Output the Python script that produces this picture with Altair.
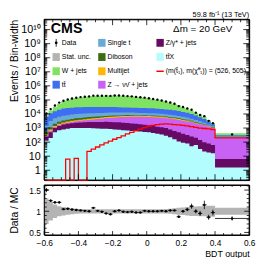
import altair as alt
import pandas as pd

# ---------------- data (values per bin width) ----------------
bin_lo = [round(-0.6 + 0.025 * i, 4) for i in range(40)] + [0.4]
bin_hi = [round(-0.575 + 0.025 * i, 4) for i in range(40)] + [0.6]

ttx = [126, 200, 500, 710, 790, 890, 1000, 1000, 1000, 1000, 1000, 950, 930, 910, 890, 850, 790, 760, 710, 660,
       630, 600, 560, 520, 500, 450, 400, 350, 280, 220, 160, 110, 89, 79, 50, 63, 32, 22, 18, 16, 1.6]
zgamma = [125, 300, 500, 700, 980, 1100, 1200, 1400, 1500, 1600, 1700, 1800, 1800, 1800, 1900, 1800, 1800, 1800,
          1700, 1600, 1500, 1400, 1300, 1200, 1100, 970, 860, 770, 720, 570, 470, 390, 310, 240, 200, 140, 110,
          78, 61, 47, 4.7]
znunu = [31, 130, 200, 250, 310, 400, 520, 620, 800, 920, 1100, 1320, 1600, 1900, 2300, 2600, 2900, 3200, 3600,
         3900, 4200, 4300, 4400, 4500, 4400, 4500, 4400, 4200, 4000, 3900, 3600, 3300, 2900, 2600, 2300, 1900,
         1700, 1500, 1200, 940, 190]
multijet = [73, 160, 210, 340, 420, 550, 560, 610, 670, 720, 770, 820, 880, 950, 1000, 1100, 1100, 1200, 1100,
            1100, 1100, 1100, 1100, 1100, 1100, 1000, 980, 940, 880, 820, 750, 670, 580, 500, 370, 260, 180, 110,
            95, 47, 15]
diboson = [150, 330, 580, 820, 1000, 1000, 1200, 1300, 1300, 1400, 1500, 1400, 1400, 1300, 1200, 1300, 1200, 1000,
           1000, 1100, 900, 900, 900, 880, 860, 840, 810, 770, 720, 670, 610, 550, 480, 410, 350, 290, 200, 160,
           100, 75, 15]
single_t = [910, 2000, 3000, 3500, 3900, 4300, 4700, 4900, 5000, 5100, 5200, 5200, 5100, 5100, 5100, 5000, 4800,
            4600, 4500, 4300, 4300, 4000, 3700, 3600, 3500, 3500, 3300, 3200, 2900, 2700, 2500, 2200, 1900, 1700,
            1400, 1100, 850, 540, 350, 200, 29]
ttbar = [4600, 8100, 11000, 14000, 17000, 18000, 19000, 20000, 20000, 20200, 20400, 20100, 19900, 19600, 19300,
         19000, 18300, 17600, 16900, 16300, 15600, 15200, 14900, 14600, 14200, 13900, 13300, 12700, 11800, 11000,
         10100, 9000, 7800, 6500, 5300, 4100, 2900, 2000, 1100, 500, 53]
wjets = [1400, 6600, 17000, 33000, 59000, 74000, 92000, 110000, 125000, 135000, 146000, 155000, 163000, 168000,
         173000, 177000, 178000, 174000, 170000, 162000, 154000, 142000, 132000, 118000, 106000, 92000, 81000,
         68000, 56000, 45000, 34000, 25500, 17500, 12000, 7800, 4600, 2900, 1700, 850, 420, 120]
signal = [0, 0, 0, 0, 0, 6.3, 0, 7.1, 0, 0, 22, 32, 45, 63, 89, 120, 160, 210, 280, 380, 500, 660, 850, 1070,
          1320, 1580, 1780, 1900, 2000, 1900, 1780, 1660, 1580, 1410, 1260, 1120, 1000, 930, 890, 790, 200]
ratio = [1.5, 1.25, 1.21, 1.21, 1.05, 1.06, 1.04, 1.03, 1.02, 1.01, 1.0, 1.08, 1.01, 0.99, 0.95, 0.93, 1.0, 1.02,
         0.99, 0.98, 0.99, 0.97, 0.97, 1.01, 1.0, 1.0, 1.0, 1.01, 1.0, 1.02, 1.02, 0.87, 1.0, 1.04, 1.12, 1.0, 0.95,
         1.15, 0.86, 0.97, 0.83]
ratio_err = [0.05, 0.03, 0.03, 0.03, 0.02, 0.02, 0.015, 0.015, 0.01, 0.01, 0.01, 0.01, 0.01, 0.01, 0.01, 0.01,
             0.01, 0.01, 0.01, 0.01, 0.01, 0.01, 0.01, 0.01, 0.01, 0.01, 0.01, 0.015, 0.015, 0.02, 0.02, 0.03, 0.03,
             0.04, 0.06, 0.05, 0.06, 0.1, 0.06, 0.07, 0.05]
mc_stat = [0.3, 0.22, 0.16, 0.12, 0.1, 0.08, 0.07, 0.06, 0.055, 0.05, 0.05, 0.05, 0.05, 0.05, 0.05, 0.05, 0.05,
           0.05, 0.05, 0.05, 0.05, 0.05, 0.05, 0.05, 0.05, 0.05, 0.05, 0.05, 0.055, 0.06, 0.07, 0.08, 0.09, 0.1,
           0.11, 0.11, 0.12, 0.12, 0.13, 0.13, 0.08]

x_major = [-0.6, -0.4, -0.2, 0, 0.2, 0.4, 0.6]
y_major = [1, 10, 1e2, 1e3, 1e4, 1e5, 1e6, 1e7, 1e8, 1e9, 1e10]
y_labels = ["1", "10", "10²", "10³", "10⁴", "10⁵", "10⁶", "10⁷", "10⁸", "10⁹", "10¹⁰"]
r_major = [0.5, 1, 1.5]

# stack, bottom to top
stack = [
    ("ttX", ttx, "#b3fdff"),
    ("Zgamma", zgamma, "#650b63"),
    ("Znunu", znunu, "#c862f5"),
    ("Multijet", multijet, "#ffb703"),
    ("Diboson", diboson, "#3b6e14"),
    ("Single t", single_t, "#68a9d8"),
    ("ttbar", ttbar, "#3e6ff3"),
    ("W+jets", wjets, "#80e262"),
]
HATCH = "#b4b4b4"

# ---------------- layout ----------------
FONT = "Liberation Sans"
W, H1, H2 = 209, 164, 51
YMIN, YMAX = 0.2, 5.4e10
RMIN, RMAX = 0.44, 1.62
TOP = 16.0   # page y of the upper panel top (legend placed in page terms)
LEFT = 43.3

xs = alt.Scale(domain=[-0.6, 0.6], nice=False, zero=False)
ys = alt.Scale(type="log", domain=[YMIN, YMAX], nice=False)
rs = alt.Scale(domain=[RMIN, RMAX], nice=False, zero=False)

label_expr = "[" + ",".join("'%s'" % s for s in y_labels) + "][round(log(datum.value)/LN10)]"
common = dict(ticks=False, domain=False, grid=False, labelOverlap=False, labelFlush=False)
ax_up_y = alt.Axis(values=y_major, labelExpr=label_expr, title="Events / Bin-width",
                   titleAnchor="end", titleX=-25.5, titleBaseline="bottom", titleFontSize=10.5,
                   labelFontSize=11, labelPadding=4, **common)
ax_r_y = alt.Axis(values=r_major, format="~g", title="Data / MC", titleX=-25.5, titleBaseline="bottom",
                  titleFontSize=10.5, labelFontSize=8.5, labelPadding=4, **common)
ax_r_x = alt.Axis(values=x_major, format="~g", title="BDT output", titleAnchor="end", labelFontSize=8.5,
                  titleFontSize=9, labelPadding=4, titlePadding=2, **common)

XU = lambda f: alt.X(f, scale=xs, axis=None)
YU = lambda f: alt.Y(f, scale=ys, axis=ax_up_y, stack=None)
XR = lambda f: alt.X(f, scale=xs, axis=ax_r_x)
YR = lambda f: alt.Y(f, scale=rs, axis=ax_r_y, stack=None)

edges = bin_lo + [0.6]
centers = [(a + b) / 2 for a, b in zip(bin_lo, bin_hi)]
dummy = pd.DataFrame({"a": [0]})


def step(vals):
    return list(vals) + [vals[-1]]


cumulative = []
running = [0.0] * len(bin_lo)
for name, vals, color in stack:
    running = [r + v for r, v in zip(running, vals)]
    cumulative.append((name, list(running), color))
total = running

upper_layers = []
for name, vals, color in reversed(cumulative):
    df = pd.DataFrame({"x": edges, "top": step(vals), "base": [YMIN] * len(edges)})
    upper_layers.append(
        alt.Chart(df).mark_area(interpolate="step-after", color=color).encode(
            x=XU("x:Q"), y=YU("top:Q"), y2="base:Q"))


def frame(h):
    return alt.Chart(dummy).mark_rect(fillOpacity=0, stroke="black", strokeWidth=1).encode(
        x=alt.value(0), x2=alt.value(W), y=alt.value(0), y2=alt.value(h))


upper_layers.append(frame(H1))

# signal
sig_plot = [v if v > 0 else YMIN for v in signal]
df_sig = pd.DataFrame({"x": edges, "v": step(sig_plot)})
upper_layers.append(
    alt.Chart(df_sig).mark_line(interpolate="step-after", color="#ff0000", strokeWidth=1.3).encode(
        x=XU("x:Q"), y=YU("v:Q")))


# ticks
def yticks(vals, ych, length, side):
    df = pd.DataFrame({"v": vals})
    x1, x2 = (0, length) if side == "left" else (W, W - length)
    return alt.Chart(df).mark_rule(color="black", strokeWidth=0.8).encode(
        y=ych("v:Q"), x=alt.value(x1), x2=alt.value(x2))


def xticks(vals, xch, h, length, side):
    df = pd.DataFrame({"v": vals})
    y1, y2 = (h, h - length) if side == "bottom" else (0, length)
    return alt.Chart(df).mark_rule(color="black", strokeWidth=0.8).encode(
        x=xch("v:Q"), y=alt.value(y1), y2=alt.value(y2))


y_minor = [m * 10.0 ** d for d in range(-1, 11) for m in range(2, 10) if YMIN <= m * 10.0 ** d <= YMAX]
x_minor = [round(-0.6 + 0.05 * i, 3) for i in range(25) if i % 4 != 0]
r_minor = [0.6, 0.7, 0.8, 0.9, 1.1, 1.2, 1.3, 1.4, 1.6]

for side in ("left", "right"):
    upper_layers.append(yticks(y_major, YU, 6, side))
    upper_layers.append(yticks(y_minor, YU, 3, side))
for side in ("bottom", "top"):
    upper_layers.append(xticks(x_major, XU, H1, 6, side))
    upper_layers.append(xticks(x_minor, XU, H1, 3, side))

# data points
data_vals = [t * r for t, r in zip(total, ratio)]
df_data = pd.DataFrame({
    "x": centers, "v": data_vals,
    "lo": [d * (1 - e / r) for d, e, r in zip(data_vals, ratio_err, ratio)],
    "hi": [d * (1 + e / r) for d, e, r in zip(data_vals, ratio_err, ratio)],
})
upper_layers.append(alt.Chart(df_data).mark_rule(color="black", strokeWidth=0.8).encode(
    x=XU("x:Q"), y=YU("lo:Q"), y2="hi:Q"))
upper_layers.append(alt.Chart(df_data).mark_circle(color="black", size=6, opacity=1).encode(
    x=XU("x:Q"), y=YU("v:Q")))

# ---------------- legend & labels ----------------
col_sw = [51.7, 98.3, 157.7]
row_y = [40.0, 54.5, 69.0, 82.7]
legend = [
    (0, 0, "Data", "data", None),
    (0, 1, "Stat. unc.", "box", HATCH),
    (0, 2, "W + jets", "box", "#80e262"),
    (0, 3, "tt\u0304", "box", "#3e6ff3"),
    (1, 0, "Single t", "box", "#68a9d8"),
    (1, 1, "Diboson", "box", "#3b6e14"),
    (1, 2, "Multijet", "box", "#ffb703"),
    (1, 3, "Z \u2192 \u03bd\u03bd\u0304 + jets", "box", "#c862f5"),
    (2, 0, "Z/\u03b3* + jets", "box", "#650b63"),
    (2, 1, "tt\u0304X", "box", "#b3fdff"),
    (2, 2, "(m(t\u0303\u2081), m(\u03c7\u0303\u2070\u2081)) = (526, 505)", "line", "#ff0000"),
]
for c, r, label, kind, color in legend:
    x0 = col_sw[c] - LEFT
    yc = row_y[r] - TOP
    if kind == "box":
        upper_layers.append(alt.Chart(dummy).mark_rect(color=color).encode(
            x=alt.value(x0), x2=alt.value(x0 + 7.5), y=alt.value(yc - 4), y2=alt.value(yc + 4)))
    elif kind == "line":
        upper_layers.append(alt.Chart(dummy).mark_rule(color=color, strokeWidth=1.5).encode(
            x=alt.value(x0), x2=alt.value(x0 + 7.5), y=alt.value(yc)))
    else:
        upper_layers.append(alt.Chart(dummy).mark_rule(color="black", strokeWidth=0.8).encode(
            x=alt.value(x0 + 3.75), y=alt.value(yc - 4), y2=alt.value(yc + 4)))
        upper_layers.append(alt.Chart(dummy).mark_circle(color="black", size=8, opacity=1).encode(
            x=alt.value(x0 + 3.75), y=alt.value(yc)))
    upper_layers.append(alt.Chart(dummy).mark_text(
        text=label, align="left", baseline="middle", font=FONT, fontSize=7, color="black").encode(
        x=alt.value(x0 + 9.5), y=alt.value(yc)))

upper_layers.append(alt.Chart(dummy).mark_text(
    text="CMS", align="left", baseline="middle", font=FONT, fontSize=14.5, fontWeight="bold",
    color="black").encode(x=alt.value(50 - LEFT), y=alt.value(25.5 - TOP)))
upper_layers.append(alt.Chart(dummy).mark_text(
    text="\u0394m = 20 GeV", align="right", baseline="middle", font=FONT, fontSize=10,
    color="black").encode(x=alt.value(235 - LEFT), y=alt.value(26 - TOP)))
upper_layers.append(alt.Chart(dummy).mark_text(
    text="59.8 fb\u207b\u00b9 (13 TeV)", align="right", baseline="alphabetic", font=FONT, fontSize=7.5,
    color="black").encode(x=alt.value(W), y=alt.value(-2)))

upper = alt.layer(*upper_layers).properties(width=W, height=H1)

# ---------------- ratio panel ----------------
df_band = pd.DataFrame({
    "x": edges,
    "hi": step([1 + e for e in mc_stat]),
    "lo": step([1 - e for e in mc_stat]),
})
ratio_layers = [
    alt.Chart(df_band).mark_area(interpolate="step-after", color=HATCH).encode(
        x=XR("x:Q"), y=YR("hi:Q"), y2="lo:Q"),
    frame(H2),
]
for side in ("left", "right"):
    ratio_layers.append(yticks(r_major, YR, 5, side))
    ratio_layers.append(yticks(r_minor, YR, 2.5, side))
for side in ("bottom", "top"):
    ratio_layers.append(xticks(x_major, XR, H2, 4, side))
    ratio_layers.append(xticks(x_minor, XR, H2, 2, side))

df_ratio = pd.DataFrame({
    "x": centers, "lo_x": bin_lo, "hi_x": bin_hi, "r": ratio,
    "lo": [r - e for r, e in zip(ratio, ratio_err)],
    "hi": [r + e for r, e in zip(ratio, ratio_err)],
})
ratio_layers.append(alt.Chart(df_ratio).mark_rule(color="black", strokeWidth=0.8).encode(
    x=XR("x:Q"), y=YR("lo:Q"), y2="hi:Q"))
ratio_layers.append(alt.Chart(df_ratio).mark_rule(color="black", strokeWidth=0.8).encode(
    x=XR("lo_x:Q"), x2="hi_x:Q", y=YR("r:Q")))
ratio_layers.append(alt.Chart(df_ratio).mark_circle(color="black", size=6, opacity=1).encode(
    x=XR("x:Q"), y=YR("r:Q")))

lower = alt.layer(*ratio_layers).properties(width=W, height=H2)

chart = alt.vconcat(upper, lower, spacing=0).properties(
    padding={"left": 0, "top": 0, "right": 2, "bottom": 0}
).configure_view(stroke="black", strokeWidth=1).configure_axis(
    labelFont=FONT, titleFont=FONT, labelColor="black", titleColor="black", titleFontWeight="normal"
)

chart.save("out.html", embed_options={"renderer": "svg", "actions": False})
